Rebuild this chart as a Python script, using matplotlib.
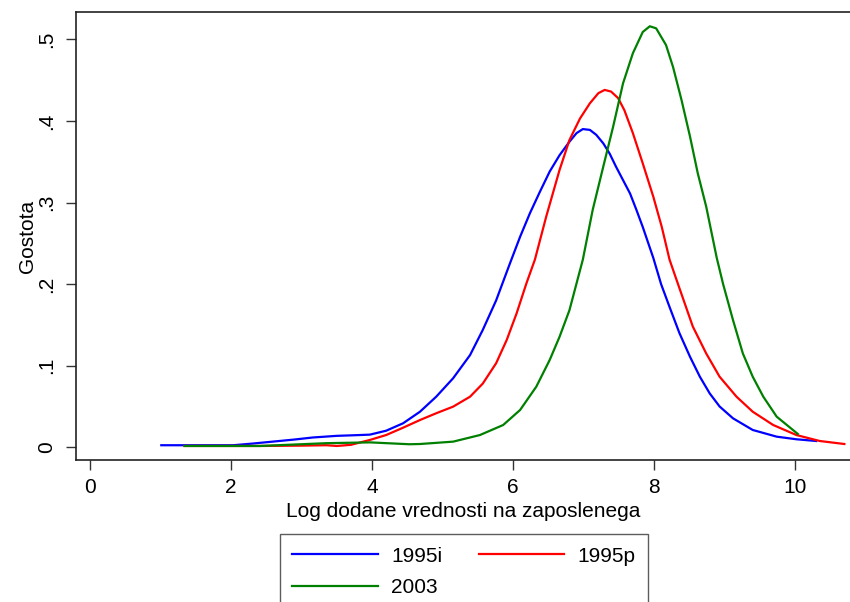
import matplotlib
matplotlib.use("Agg")
import matplotlib.pyplot as plt
from matplotlib.ticker import FuncFormatter

plt.rcParams['font.family'] = ['Liberation Sans', 'DejaVu Sans']

# Kernel density curves
x_1995i = [1.01, 1.32, 2.03, 2.3, 2.6, 2.9, 3.16, 3.5, 3.83, 3.97, 4.20, 4.44, 4.68, 4.91, 5.15,
           5.39, 5.57, 5.76, 5.95, 6.10, 6.24, 6.38, 6.52, 6.66, 6.80, 6.90, 6.99, 7.09, 7.18,
           7.28, 7.37, 7.46, 7.56, 7.66, 7.75, 7.84, 7.99, 8.10, 8.22, 8.36, 8.51, 8.65, 8.79,
           8.93, 9.12, 9.40, 9.74, 10.02, 10.30]
y_1995i = [0.0025, 0.0025, 0.0025, 0.0045, 0.007, 0.0095, 0.012, 0.014, 0.015, 0.0155, 0.0203,
           0.0294, 0.0436, 0.062, 0.0846, 0.113, 0.1437, 0.180, 0.224, 0.258, 0.287, 0.313, 0.338,
           0.358, 0.3745, 0.385, 0.390, 0.389, 0.383, 0.3725, 0.360, 0.344, 0.3275, 0.311, 0.291,
           0.270, 0.232, 0.200, 0.172, 0.140, 0.111, 0.0865, 0.066, 0.050, 0.0355, 0.0212, 0.013,
           0.0098, 0.0077]

x_1995p = [1.34, 2.41, 3.0, 3.35, 3.5, 3.7, 3.97, 4.20, 4.44, 4.68, 4.91, 5.15, 5.39, 5.57, 5.76,
           5.91, 6.05, 6.19, 6.31, 6.47, 6.66, 6.80, 6.95, 7.09, 7.21, 7.30, 7.39, 7.49, 7.58,
           7.70, 7.84, 7.99, 8.11, 8.22, 8.32, 8.55, 8.74, 8.93, 9.17, 9.40, 9.69, 10.02, 10.35,
           10.70]
y_1995p = [0.0016, 0.0016, 0.002, 0.0025, 0.0016, 0.003, 0.009, 0.015, 0.024, 0.0334, 0.0417,
           0.0498, 0.062, 0.078, 0.103, 0.1315, 0.164, 0.201, 0.230, 0.2826, 0.340, 0.3766, 0.403,
           0.4216, 0.434, 0.438, 0.436, 0.428, 0.413, 0.385, 0.348, 0.307, 0.270, 0.230, 0.205,
           0.148, 0.115, 0.0865, 0.062, 0.0436, 0.0273, 0.015, 0.0077, 0.004]

x_2003 = [1.34, 2.41, 3.35, 3.97, 4.53, 4.68, 5.15, 5.53, 5.86, 6.10, 6.33, 6.52, 6.66, 6.80,
          6.99, 7.13, 7.28, 7.42, 7.56, 7.70, 7.84, 7.94, 8.03, 8.17, 8.27, 8.39, 8.51, 8.62,
          8.74, 8.89, 8.98, 9.12, 9.26, 9.40, 9.55, 9.74, 10.04]
y_2003 = [0.0016, 0.0016, 0.005, 0.006, 0.0037, 0.004, 0.0069, 0.015, 0.0273, 0.0457, 0.0743,
          0.107, 0.1355, 0.168, 0.230, 0.291, 0.344, 0.393, 0.446, 0.483, 0.509, 0.516, 0.5135,
          0.493, 0.466, 0.4256, 0.381, 0.336, 0.295, 0.232, 0.200, 0.156, 0.115, 0.0865, 0.062,
          0.0375, 0.0163]

x_ticks = [0, 2, 4, 6, 8, 10]
y_ticks = [0, 0.1, 0.2, 0.3, 0.4, 0.5]

fig = plt.figure(figsize=(8.5, 6.02), dpi=100)
ax = fig.add_axes([76 / 850, 1 - 460 / 602, 1 - 76 / 850, (460 - 12) / 602])

lw = 1.6
l1, = ax.plot(x_1995i, y_1995i, color='#0000ff', lw=lw, label='1995i', solid_joinstyle='round')
l2, = ax.plot(x_1995p, y_1995p, color='#ff0000', lw=lw, label='1995p', solid_joinstyle='round')
l3, = ax.plot(x_2003, y_2003, color='#008000', lw=lw, label='2003', solid_joinstyle='round')

ax.set_xlim(-0.2, 10.78)
ax.set_ylim(-0.0156, 0.5335)
ax.set_xticks(x_ticks)
ax.set_yticks(y_ticks)
ax.yaxis.set_major_formatter(FuncFormatter(lambda v, p: '0' if v == 0 else f'{v:.1f}'.lstrip('0')))
for lbl in ax.get_yticklabels():
    lbl.set_rotation(90)
    lbl.set_va('center')

fs = 15
ax.tick_params(axis='both', labelsize=fs, length=7, width=1, color='#333333', direction='out')
ax.tick_params(axis='x', pad=6)
ax.tick_params(axis='y', pad=7.5)

for s in ['left', 'top', 'bottom']:
    ax.spines[s].set_color('#222222')
    ax.spines[s].set_linewidth(1.2)
ax.spines['right'].set_visible(False)

ax.set_xlabel('Log dodane vrednosti na zaposlenega', fontsize=fs, labelpad=3.5)
ax.set_ylabel('Gostota', fontsize=fs, labelpad=0)

# column-wise fill so entries read row by row
leg = fig.legend([l1, l3, l2], ['1995i', '2003', '1995p'], ncol=2, loc='upper center',
                 bbox_to_anchor=(0.546, 1 - 534 / 602), fontsize=fs, frameon=True, fancybox=False,
                 handlelength=4.1, handletextpad=0.65, columnspacing=1.75, borderaxespad=0,
                 labelspacing=0.6, borderpad=0.6)
leg.get_frame().set_edgecolor('#333333')
leg.get_frame().set_linewidth(1.0)

fig.savefig('out.png', dpi=100)
